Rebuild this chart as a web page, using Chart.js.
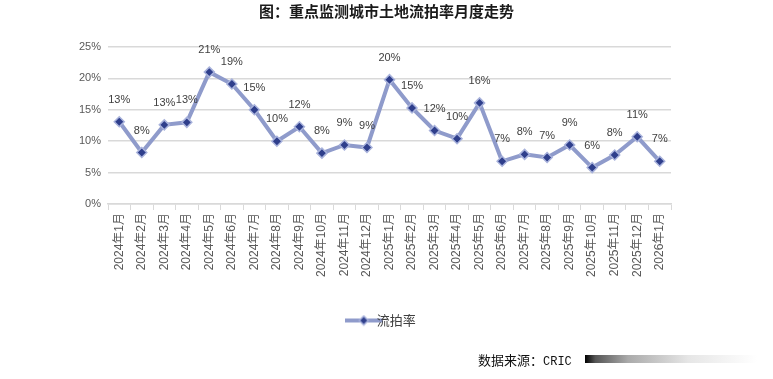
<!DOCTYPE html>
<html>
<head>
<meta charset="utf-8">
<script src="https://cdn.jsdelivr.net/npm/chart.js"></script>
<style>
  body { margin: 0; background: #fff; }
  #wrap { position: relative; width: 773px; height: 379px; }
  #source {
    position: absolute; left: 478px; top: 350px;
    font: 13px "Noto Sans CJK SC", sans-serif; color: #111;
  }
  #source span { font-family: "Liberation Mono", monospace; font-size: 12px; }
  #fade {
    position: absolute; left: 585px; top: 355px; width: 172px; height: 8px;
    background: linear-gradient(to right, #000 0%, #555 6%, #aaa 25%, #e6e6e6 60%, #fff 100%);
  }
</style>
</head>
<body>
<div id="wrap">
  <canvas id="chart" width="773" height="379"></canvas>
  <div id="source">数据来源：<span>CRIC</span></div>
  <div id="fade"></div>
</div>
<script>
let months = ["2024年1月", "2024年2月", "2024年3月", "2024年4月", "2024年5月", "2024年6月",
  "2024年7月", "2024年8月", "2024年9月", "2024年10月", "2024年11月", "2024年12月",
  "2025年1月", "2025年2月", "2025年3月", "2025年4月", "2025年5月", "2025年6月",
  "2025年7月", "2025年8月", "2025年9月", "2025年10月", "2025年11月", "2025年12月", "2026年1月"];

// 流拍率, percent
let rates = [13.1, 8.2, 12.6, 13.0, 21.0, 19.1, 15.0, 10.0, 12.3, 8.1, 9.4, 9.0,
  19.8, 15.3, 11.7, 10.4, 16.1, 6.8, 7.9, 7.4, 9.4, 5.8, 7.8, 10.7, 6.8];

let yTicks = [0, 5, 10, 15, 20, 25];

let lineColor = "#8f9bcb";
let dotColor = "#2f3f8c";

// legend icon: line with a diamond in the middle
let icon = document.createElement("canvas");
icon.width = 38;
icon.height = 12;
let ic = icon.getContext("2d");
ic.strokeStyle = lineColor;
ic.lineWidth = 4;
ic.beginPath();
ic.moveTo(0, 6);
ic.lineTo(38, 6);
ic.stroke();
ic.fillStyle = dotColor;
ic.strokeStyle = "#a9b3dc";
ic.lineWidth = 1.5;
ic.beginPath();
ic.moveTo(19, 1.5);
ic.lineTo(23.5, 6);
ic.lineTo(19, 10.5);
ic.lineTo(14.5, 6);
ic.closePath();
ic.fill();
ic.stroke();

let valueLabels = {
  id: "valueLabels",
  afterDatasetsDraw(chart) {
    let ctx = chart.ctx;
    let meta = chart.getDatasetMeta(0);
    ctx.save();
    ctx.font = "11px 'Liberation Sans', sans-serif";
    ctx.fillStyle = "#404040";
    ctx.textAlign = "center";
    ctx.textBaseline = "middle";
    meta.data.forEach((pt, i) => {
      ctx.fillText(Math.round(rates[i]) + "%", pt.x, pt.y - 22);
    });
    ctx.restore();
  }
};

new Chart(document.getElementById("chart").getContext("2d"), {
  type: "line",
  data: {
    labels: months,
    datasets: [{
      label: "流拍率",
      data: rates,
      borderColor: lineColor,
      borderWidth: 4,
      tension: 0,
      pointStyle: "rectRot",
      pointRadius: 5,
      pointBackgroundColor: dotColor,
      pointBorderColor: "#a9b3dc",
      pointBorderWidth: 1.5
    }]
  },
  options: {
    responsive: false,
    animation: false,
    layout: { padding: { left: 0, right: 0, top: 0, bottom: 42 } },
    scales: {
      x: {
        offset: true,
        grid: { display: true, drawOnChartArea: false, offset: true, tickLength: 6, color: "#d9d9d9" },
        border: { display: true, color: "#d9d9d9", width: 1.5 },
        ticks: {
          minRotation: 90, maxRotation: 90, autoSkip: false, padding: 3,
          color: "#595959",
          font: { size: 12, family: "'Liberation Sans', 'Noto Sans CJK SC', sans-serif" }
        },
        afterFit(scale) { scale.height = 100; }
      },
      y: {
        min: 0, max: 25,
        afterBuildTicks(scale) { scale.ticks = yTicks.map(v => ({ value: v })); },
        grid: { color: "#d9d9d9", lineWidth: 1.5, drawTicks: false },
        border: { display: false },
        ticks: {
          padding: 7,
          color: "#595959",
          font: { size: 11, family: "'Liberation Sans', sans-serif" },
          callback: v => v + "%"
        },
        afterFit(scale) { scale.width = 108; }
      },
      yRight: {
        position: "right",
        display: true,
        grid: { display: false },
        border: { display: false },
        ticks: { display: false },
        afterFit(scale) { scale.width = 102; }
      }
    },
    plugins: {
      title: {
        display: true,
        text: "图：重点监测城市土地流拍率月度走势",
        color: "#1a1a1a",
        font: { size: 15, weight: "bold", family: "'Noto Sans CJK SC', sans-serif" },
        padding: { top: 2, bottom: 27 }
      },
      legend: {
        position: "bottom",
        labels: {
          usePointStyle: true,
          color: "#404040",
          font: { size: 13, family: "'Noto Sans CJK SC', sans-serif" },
          padding: 10,
          generateLabels(chart) {
            let items = Chart.defaults.plugins.legend.labels.generateLabels(chart);
            items.forEach(it => { it.pointStyle = icon; });
            return items;
          }
        }
      },
      tooltip: { enabled: false }
    }
  },
  plugins: [valueLabels]
});
</script>
</body>
</html>
